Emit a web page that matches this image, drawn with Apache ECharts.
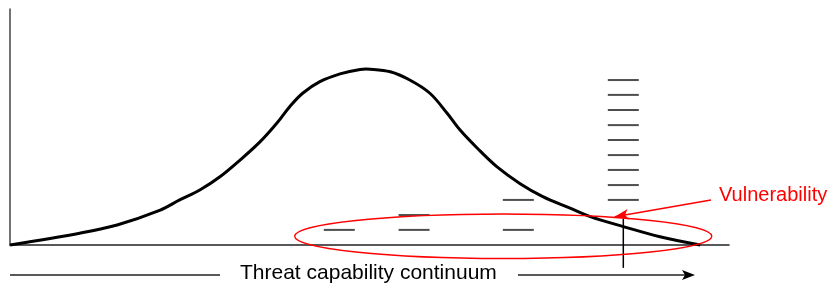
<!DOCTYPE html>
<html>
<head>
<meta charset="utf-8">
<script src="https://cdn.jsdelivr.net/npm/echarts@6/dist/echarts.min.js"></script>
<style>
    html, body { margin: 0; padding: 0; background: #fff; }
    #main { width: 834px; height: 285px; }
</style>
</head>
<body>
<div id="main"></div>
<script>
// threat population curve (capability on x, relative frequency on y, both 0..100)
var capability = [0, 9.7, 14.9, 20.9, 23.6, 26.4, 29.2, 32.0, 34.8, 37.1, 38.9, 40.7, 43.1,
    45.9, 48.7, 50.1, 52.9, 55.6, 58.4, 60.8, 62.6, 65.0, 67.7, 70.9, 74.1, 77.9, 80.7,
    85.3, 90.4, 96.0];
var frequency = [0, 5.0, 8.5, 14.8, 19.1, 23.3, 28.9, 36.0, 43.8, 51.6, 58.6, 64.3, 69.2,
    72.5, 74.4, 74.5, 73.4, 69.9, 64.3, 55.8, 48.7, 41.0, 33.2, 26.1, 20.5, 15.6, 12.0,
    7.8, 3.5, 0];

// stacks of dashes (control strength columns)
var dashColumns = [45.8, 56.2, 70.7, 85.3];
var dashLevels = [
    [6.4],
    [6.4, 12.7],
    [6.4, 19.1],
    [19.1, 25.4, 31.8, 38.1, 44.5, 50.8, 57.2, 63.6, 69.9]
];

// marker at the control strength, crossing the axis
var markerX = 85.3;
var markerRange = [11.0, -9.7];

// vulnerability ellipse and arrow
var ellipseCenter = [68.6, 3.7];
var ellipseRadii = [29.0, 9.4];
var arrowFrom = [97.5, 19.1];
var arrowTo = [84.1, 12.0];

var axisLabel = 'Threat capability continuum';
var noteLabel = 'Vulnerability';

var curveData = capability.map(function (x, i) { return [x, frequency[i]]; });
var dashData = [];
dashColumns.forEach(function (x, i) {
    dashLevels[i].forEach(function (y) { dashData.push([x, y]); });
});

var chart = echarts.init(document.getElementById('main'));
var font = '"Liberation Sans", Arial, sans-serif';

// one smooth path through all curve points, placed by the axes
function renderCurve(params, api) {
    if (params.dataIndex !== 0) return null;
    var pts = curveData.map(function (p) { return api.coord(p); });
    return {
        type: 'polyline',
        shape: { points: pts, smooth: 0.35 },
        style: { stroke: '#000', lineWidth: 3, fill: null, lineJoin: 'round' }
    };
}

var option = {
    animation: false,
    backgroundColor: '#fff',
    grid: { left: 10, right: 105, top: 9, bottom: 40 },
    xAxis: {
        type: 'value', min: 0, max: 100,
        axisLine: { show: true, onZero: false, lineStyle: { color: '#222', width: 1.5 } },
        axisTick: { show: false }, axisLabel: { show: false }, splitLine: { show: false }
    },
    yAxis: {
        type: 'value', min: 0, max: 100,
        axisLine: { show: true, lineStyle: { color: '#444', width: 1.5 } },
        axisTick: { show: false }, axisLabel: { show: false }, splitLine: { show: false }
    },
    series: [
        {
            type: 'scatter',
            data: dashData,
            symbol: 'rect',
            symbolSize: [31, 2],
            itemStyle: { color: '#222' },
            silent: true
        },
        {
            type: 'custom',
            data: curveData,
            renderItem: renderCurve,
            clip: false,
            silent: true,
            z: 3
        },
        {
            type: 'line',
            data: [[markerX, markerRange[0]], [markerX, markerRange[1]]],
            clip: false,
            showSymbol: false,
            lineStyle: { color: '#000', width: 1.5 },
            silent: true,
            markLine: {
                silent: true,
                symbol: ['none', 'arrow'],
                symbolSize: [8, 14],
                label: { show: false },
                lineStyle: { color: '#ff0000', width: 1.5, type: 'solid' },
                data: [[{ coord: arrowFrom }, { coord: arrowTo }]]
            }
        }
    ]
};
chart.setOption(option);

var c = chart.convertToPixel({ gridIndex: 0 }, ellipseCenter);
var e = chart.convertToPixel({ gridIndex: 0 },
    [ellipseCenter[0] + ellipseRadii[0], ellipseCenter[1] + ellipseRadii[1]]);

chart.setOption({
    graphic: [
        {
            type: 'ellipse',
            shape: { cx: c[0], cy: c[1], rx: e[0] - c[0], ry: c[1] - e[1] },
            style: { fill: 'none', stroke: '#ff0000', lineWidth: 1.5 },
            z: 10
        },
        {
            type: 'text',
            style: { text: noteLabel, x: 719, y: 195, fill: '#ff0000', font: '20px ' + font, verticalAlign: 'middle' },
            z: 10
        },
        {
            type: 'line',
            shape: { x1: 10, y1: 275, x2: 220, y2: 275 },
            style: { stroke: '#222', lineWidth: 1.5 }
        },
        {
            type: 'text',
            style: { text: axisLabel, x: 240, y: 273, fill: '#000', font: '21px ' + font, verticalAlign: 'middle' }
        },
        {
            type: 'line',
            shape: { x1: 518, y1: 275, x2: 686, y2: 275 },
            style: { stroke: '#222', lineWidth: 1.5 }
        },
        {
            type: 'polygon',
            shape: { points: [[682, 270], [695, 275], [682, 280], [685, 275]] },
            style: { fill: '#000' }
        }
    ]
});
</script>
</body>
</html>
